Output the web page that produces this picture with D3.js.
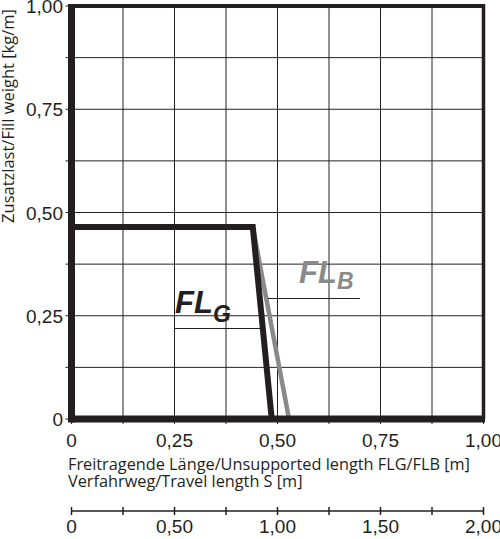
<!DOCTYPE html>
<html>
<head>
<meta charset="utf-8">
<script src="https://cdn.jsdelivr.net/npm/d3@7"></script>
<style>
  body { margin: 0; background: #fff; }
  svg { display: block; }
</style>
</head>
<body>
<svg id="canvas" width="500" height="539"></svg>
<script>
// chart data
let gridSteps = d3.range(0, 1.0001, 0.125);
let xTickValues = [0, 0.25, 0.5, 0.75, 1];
let xTickLabels = ["0", "0,25", "0,50", "0,75", "1,00"];
let yTickValues = [0, 0.25, 0.5, 0.75, 1];
let yTickLabels = ["0", "0,25", "0,50", "0,75", "1,00"];
let sTickValues = [0, 0.5, 1, 1.5, 2];
let sTickLabels = ["0", "0,50", "1,00", "1,50", "2,00"];
let sMinorTicks = d3.range(0, 2.0001, 0.25);

let flgX = [0, 0.44, 0.486];
let flgY = [0.465, 0.465, 0];
let flbX = [0.44, 0.528];
let flbY = [0.465, 0];

let width = 500;
let height = 539;

let canvas = d3.select("#canvas");

let xScale = d3.scaleLinear().domain([0, 1]).range([71.5, 483.5]);
let yScale = d3.scaleLinear().domain([0, 1]).range([419, 6]);
let sScale = d3.scaleLinear().domain([0, 2]).range([71.5, 483.5]);

let numFont = "'Liberation Sans', Arial, sans-serif";
let titleFont = "'Open Sans', sans-serif";

// grid
let grid = canvas.append("g");
grid.selectAll(".vg")
  .data(gridSteps)
  .enter()
  .append("line")
  .attr("x1", d => xScale(d))
  .attr("x2", d => xScale(d))
  .attr("y1", yScale(1))
  .attr("y2", yScale(0) + 5)
  .attr("stroke", "#222")
  .attr("stroke-width", 1);
grid.selectAll(".hg")
  .data(gridSteps)
  .enter()
  .append("line")
  .attr("x1", xScale(0) - 6)
  .attr("x2", xScale(1))
  .attr("y1", d => yScale(d))
  .attr("y2", d => yScale(d))
  .attr("stroke", "#222")
  .attr("stroke-width", 1);

// curves
let line = d3.line().x(d => xScale(d[0])).y(d => yScale(d[1]));

canvas.append("path")
  .attr("d", line(d3.zip(flbX, flbY)))
  .attr("fill", "none")
  .attr("stroke", "#8a8a8a")
  .attr("stroke-width", 4.5);

canvas.append("path")
  .attr("d", line(d3.zip(flgX, flgY)))
  .attr("fill", "none")
  .attr("stroke", "#231f20")
  .attr("stroke-width", 6)
  .attr("stroke-linejoin", "miter");

// frame
canvas.append("line")
  .attr("x1", xScale(0)).attr("x2", xScale(1))
  .attr("y1", yScale(1)).attr("y2", yScale(1))
  .attr("stroke", "#231f20").attr("stroke-width", 4);
canvas.append("line")
  .attr("x1", xScale(1)).attr("x2", xScale(1))
  .attr("y1", yScale(1) - 2).attr("y2", yScale(0))
  .attr("stroke", "#231f20").attr("stroke-width", 3.5);
canvas.append("line")
  .attr("x1", xScale(0)).attr("x2", xScale(0))
  .attr("y1", yScale(1) - 2).attr("y2", yScale(0) + 3.5)
  .attr("stroke", "#231f20").attr("stroke-width", 7);
canvas.append("line")
  .attr("x1", xScale(0)).attr("x2", xScale(1) + 1.5)
  .attr("y1", yScale(0)).attr("y2", yScale(0))
  .attr("stroke", "#231f20").attr("stroke-width", 7);

// tick labels
canvas.selectAll(".xl")
  .data(xTickValues)
  .enter()
  .append("text")
  .attr("x", d => xScale(d))
  .attr("y", 447)
  .attr("text-anchor", "middle")
  .attr("font-family", numFont)
  .attr("font-size", 19)
  .attr("fill", "#231f20")
  .text((d, i) => xTickLabels[i]);

canvas.selectAll(".yl")
  .data(yTickValues)
  .enter()
  .append("text")
  .attr("x", 63)
  .attr("y", d => yScale(d) + 7)
  .attr("text-anchor", "end")
  .attr("font-family", numFont)
  .attr("font-size", 19)
  .attr("fill", "#231f20")
  .text((d, i) => yTickLabels[i]);

// axis titles
canvas.append("text")
  .attr("transform", "translate(14,116) rotate(-90)")
  .attr("text-anchor", "middle")
  .attr("font-family", titleFont)
  .attr("font-size", 16.5)
  .attr("fill", "#231f20")
  .text("Zusatzlast/Fill weight [kg/m]");

canvas.append("text")
  .attr("x", 68)
  .attr("y", 470)
  .attr("font-family", titleFont)
  .attr("font-size", 16.3)
  .attr("fill", "#231f20")
  .text("Freitragende Länge/Unsupported length FLG/FLB [m]");
canvas.append("text")
  .attr("x", 68)
  .attr("y", 487)
  .attr("font-family", titleFont)
  .attr("font-size", 16.3)
  .attr("fill", "#231f20")
  .text("Verfahrweg/Travel length S [m]");

// travel length axis
let sAxis = canvas.append("g");
sAxis.append("line")
  .attr("x1", sScale(0)).attr("x2", sScale(2))
  .attr("y1", 511).attr("y2", 511)
  .attr("stroke", "#231f20").attr("stroke-width", 1.5);
sAxis.selectAll(".st")
  .data(sMinorTicks)
  .enter()
  .append("line")
  .attr("x1", d => sScale(d)).attr("x2", d => sScale(d))
  .attr("y1", 507).attr("y2", 515)
  .attr("stroke", "#231f20").attr("stroke-width", 1.5);
sAxis.selectAll(".sl")
  .data(sTickValues)
  .enter()
  .append("text")
  .attr("x", d => sScale(d))
  .attr("y", 533)
  .attr("text-anchor", "middle")
  .attr("font-family", numFont)
  .attr("font-size", 19)
  .attr("fill", "#231f20")
  .text((d, i) => sTickLabels[i]);

// curve labels
let labG = canvas.append("text")
  .attr("x", 175)
  .attr("y", 313)
  .attr("font-family", numFont)
  .attr("font-weight", "bold")
  .attr("font-style", "italic")
  .attr("fill", "#231f20");
labG.append("tspan").attr("font-size", 31).text("FL");
labG.append("tspan").attr("font-size", 23).attr("dy", 9).text("G");
canvas.append("line")
  .attr("x1", 175).attr("x2", 262)
  .attr("y1", 328.5).attr("y2", 328.5)
  .attr("stroke", "#231f20").attr("stroke-width", 1.2);

let labB = canvas.append("text")
  .attr("x", 299)
  .attr("y", 283)
  .attr("font-family", numFont)
  .attr("font-weight", "bold")
  .attr("font-style", "italic")
  .attr("fill", "#8a8a8a");
labB.append("tspan").attr("font-size", 31).text("FL");
labB.append("tspan").attr("font-size", 23).attr("dy", 6).text("B");
canvas.append("line")
  .attr("x1", 268).attr("x2", 360)
  .attr("y1", 298.5).attr("y2", 298.5)
  .attr("stroke", "#231f20").attr("stroke-width", 1.2);
</script>
</body>
</html>
